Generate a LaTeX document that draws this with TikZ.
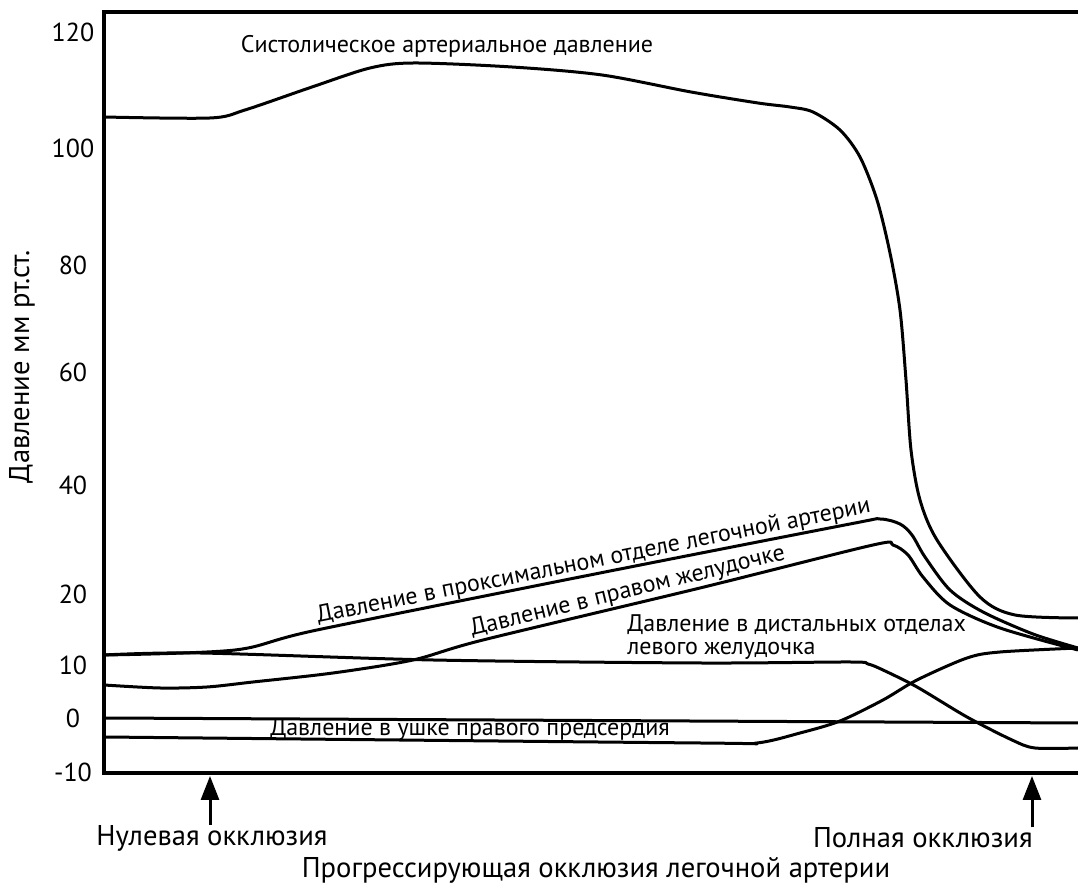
\documentclass[tikz,border=0pt]{standalone}
\usepackage{fontspec}
\setmainfont{PT Sans}
\usetikzlibrary{arrows.meta, positioning}

\begin{document}
\begin{tikzpicture}[
  x=0.5pt, y=-0.5pt,
  frame/.style = {line width=2pt},
  curve/.style = {line width=1.5pt, line join=round},
  tick/.style = {font=\fontsize{13}{15}\selectfont, inner sep=0pt},
  lbl/.style = {font=\fontsize{12}{11.5}\selectfont, inner sep=0pt},
  outer/.style = {font=\fontsize{14.3}{16}\selectfont, inner sep=0pt},
  arrow/.style = {line width=1.5pt, -{Triangle[length=12pt, width=9pt]}}
]
  \useasboundingbox (0,0) rectangle (1078,886);

  % frame
  \draw[frame] (1078,12) -- (104,12) -- (104,773) -- (1078,773);

  % tick labels
  \foreach \val/\ypos in {120/32, 100/148, 80/265, 60/372, 40/485, 20/594, 10/665, 0/718, -10/772}
    \node[tick] (tick\val) at (73,\ypos) {\val};

  \node[outer, rotate=90] (ytitle) at (22,367) {Давление мм рт.ст.};

  % systolic pressure
  \draw[curve] plot[smooth, tension=0.5] coordinates {
    (104,117) (210,118) (245,110) (312,87) (370,68) (414,63) (512,67)
    (602,75) (691,92) (758,103) (790,107) (813,112) (840,130) (860,157)
    (877,200) (890,253) (900,310) (906,380) (911,450) (920,500) (937,540)
    (980,597) (1015,615) (1078,618)};

  % proximal pulmonary artery
  \draw[curve] plot[smooth, tension=0.5] coordinates {
    (104,655) (235,650) (317,630) (600,573) (850,524) (880,519) (900,524)
    (912,535) (925,557) (950,590) (983,612) (1033,634) (1078,648)};

  % right ventricle
  \draw[curve] plot[smooth, tension=0.5] coordinates {
    (104,685) (160,688) (207,687) (253,682) (333,673) (413,660) (483,640)
    (700,588) (873,545) (893,545) (908,555) (923,577) (950,605) (1000,628)
    (1078,650)};

  % distal left ventricle
  \draw[curve] plot[smooth, tension=0.5] coordinates {
    (104,655) (200,653) (433,660) (700,663) (850,662) (868,664) (883,670)
    (917,687) (967,717) (1012,740) (1035,748) (1078,748)};

  % right atrial appendage
  \draw[curve] (104,718) -- (1078,723);
  \draw[curve] plot[smooth, tension=0.5] coordinates {
    (104,737) (700,743) (757,743) (800,733) (840,721) (883,700) (917,680)
    (967,658) (1000,652) (1078,648)};

  % curve labels
  \node[lbl] (systolic) at (447,46) {Систолическое артериальное давление};
  \node[lbl, rotate=11.3, anchor=base west] (proximal) at (318,623) {Давление в проксимальном отделе легочной артерии};
  \node[lbl, rotate=13.7, anchor=base west] (rightvent) at (472,636) {Давление в правом желудочке};
  \node[lbl, align=left, anchor=west] (distal) at (627,637) {Давление в дистальных отделах\\левого желудочка};
  \node[lbl] (atrial) at (470,730) {Давление в ушке правого предсердия};

  % occlusion marks
  \node[outer] (zero) at (212,838) {Нулевая окклюзия};
  \node[outer, anchor=east] (full) at (1033,838) {Полная окклюзия};
  \node[outer] (xtitle) at (596,870) {Прогрессирующая окклюзия легочной артерии};
  \coordinate (zerotip) at (210,776);
  \coordinate (fulltip) at (1032,776);
  \draw[arrow] (zerotip |- zero.north) -- (zerotip);
  \draw[arrow] (fulltip |- full.north) -- (fulltip);
\end{tikzpicture}
\end{document}
